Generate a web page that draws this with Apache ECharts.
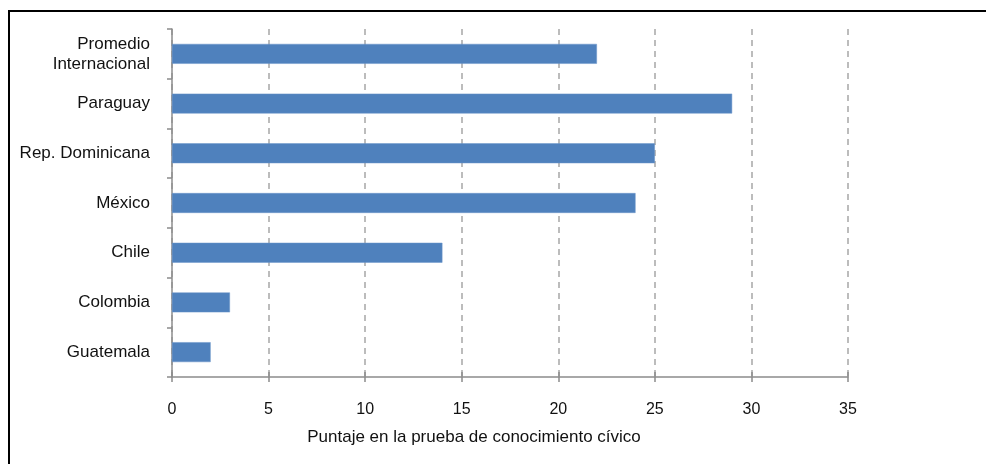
<!DOCTYPE html>
<html>
<head>
<meta charset="utf-8">
<script src="https://cdn.jsdelivr.net/npm/echarts@6/dist/echarts.min.js"></script>
<style>
html,body{margin:0;padding:0;background:#fff;}
#c{width:986px;height:464px;}
</style>
</head>
<body>
<div id="c"></div>
<script>
const categories = ['Promedio\nInternacional', 'Paraguay', 'Rep. Dominicana', 'México', 'Chile', 'Colombia', 'Guatemala'];
const values = [22, 29, 25, 24, 14, 3, 2];
const xTicks = [0, 5, 10, 15, 20, 25, 30, 35];
const axisTitle = 'Puntaje en la prueba de conocimiento cívico';

const chart = echarts.init(document.getElementById('c'), null, {renderer: 'canvas'});
const font = '"Liberation Sans", Arial, sans-serif';
chart.setOption({
  animation: false,
  backgroundColor: '#fff',
  grid: {left: 172, right: 138, top: 29, bottom: 87, containLabel: false},
  xAxis: [{
    type: 'value', min: xTicks[0], max: xTicks[xTicks.length - 1], interval: 5,
    position: 'bottom',
    axisLine: {show: true, lineStyle: {color: '#8c8c8c', width: 1.5}},
    axisTick: {show: true, length: 5, lineStyle: {color: '#8c8c8c', width: 1.5}},
    axisLabel: {color: '#111', fontFamily: font, fontSize: 16, margin: 25},
    splitLine: {show: true, lineStyle: {color: '#a6a6a6', width: 1.5, type: [6, 5]}}
  }, {
    type: 'value', min: xTicks[0], max: xTicks[xTicks.length - 1], interval: 5,
    position: 'bottom', offset: 0,
    axisLine: {show: false},
    axisTick: {show: true, inside: true, length: 5, lineStyle: {color: '#8c8c8c', width: 1.5}},
    axisLabel: {show: false},
    splitLine: {show: false}
  }],
  yAxis: {
    type: 'category', data: categories, inverse: true,
    axisLine: {show: true, lineStyle: {color: '#8c8c8c', width: 1.5}},
    axisTick: {show: true, length: 5, alignWithLabel: false, lineStyle: {color: '#8c8c8c', width: 1.5}},
    axisLabel: {color: '#111', fontFamily: font, fontSize: 17, margin: 22, lineHeight: 20, align: 'right'},
    splitLine: {show: false}
  },
  series: [{
    type: 'bar', data: values, barWidth: '40%',
    itemStyle: {color: '#4F81BD', borderColor: '#6a95c9', borderWidth: 0.5}
  }],
  graphic: [
    {type: 'rect', shape: {x: 9, y: 11, width: 1000, height: 500}, style: {fill: 'none', stroke: '#000', lineWidth: 2}, z: 100},
    {type: 'text', x: 474, y: 437, style: {text: axisTitle, fill: '#111', font: '17px "Liberation Sans", Arial, sans-serif', textAlign: 'center', textVerticalAlign: 'middle'}}
  ]
});
</script>
</body>
</html>
